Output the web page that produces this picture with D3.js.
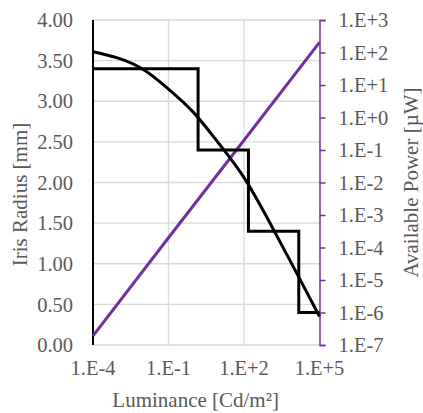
<!DOCTYPE html>
<meta charset="utf-8">
<html>
  <head>
    <script src="https://cdn.jsdelivr.net/npm/d3@7"></script>
    <style>
      body { margin: 0; background: #fff; }
    </style>
  </head>
  <body>
    <div id="chart"></div>

    <script type="text/javascript">
      // luminance (cd/m2) vs iris radius (mm)
      var curveLum = [1e-4, 1e-3, 1e-2, 1e-1, 1, 1e1, 1e2, 1e3, 1e4, 1e5];
      var curveRadius = [3.61, 3.53, 3.39, 3.15, 2.86, 2.48, 2.06, 1.52, 0.94, 0.35];

      // stepped approximation
      var stepLum = [1e-4, 1.5, 150, 15000, 1e5];
      var stepRadius = [3.4, 2.4, 1.4, 0.4, 0.4];

      // available power (uW)
      var powerLum = [1e-4, 1e-1, 1e2, 1e5];
      var power = [1.9e-7, 2e-4, 0.2, 206];

      var xTicks = [1e-4, 1e-1, 1e2, 1e5],
          xTickLabels = ["1.E-4", "1.E-1", "1.E+2", "1.E+5"],
          yTicks = [0, 0.5, 1, 1.5, 2, 2.5, 3, 3.5, 4],
          y2Exp = [-7, -6, -5, -4, -3, -2, -1, 0, 1, 2, 3];

      var width = 423, height = 413,
          margin = { top: 20, right: 103.5, bottom: 68, left: 93 },
          w = width - margin.left - margin.right,
          h = height - margin.top - margin.bottom,
          purple = "#7030a0",
          serif = "'Liberation Serif', 'Times New Roman', Times, serif";

      var svg = d3.select("#chart").append("svg")
          .attr("width", width)
          .attr("height", height)
          .append("g")
          .attr("transform", "translate(" + margin.left + "," + margin.top + ")");

      var x = d3.scaleLog().domain([1e-4, 1e5]).range([0, w]);
      var y = d3.scaleLinear().domain([0, 4]).range([h, 0]);
      var y2 = d3.scaleLog().domain([1e-7, 1e3]).range([h, 0]);

      // gridlines
      svg.selectAll(".hgrid")
          .data(yTicks)
          .enter().append("line")
            .attr("x1", 0).attr("x2", w)
            .attr("y1", function(d) { return y(d); })
            .attr("y2", function(d) { return y(d); })
            .style("stroke", "#d9d9d9")
            .style("stroke-width", "1.3px");

      svg.selectAll(".vgrid")
          .data(xTicks.slice(1, 3))
          .enter().append("line")
            .attr("y1", 0).attr("y2", h)
            .attr("x1", function(d) { return x(d); })
            .attr("x2", function(d) { return x(d); })
            .style("stroke", "#d9d9d9")
            .style("stroke-width", "1.3px");

      // left axis labels
      svg.selectAll(".yLabel")
          .data(yTicks)
          .enter().append("text")
            .text(function(d) { return d.toFixed(2); })
            .attr("x", -20)
            .attr("y", function(d) { return y(d); })
            .attr("dy", "0.35em")
            .style("text-anchor", "end")
            .style("font-family", serif)
            .style("fill", "#595959")
            .style("font-size", "20.5px");

      // bottom labels
      svg.selectAll(".xLabel")
          .data(xTicks)
          .enter().append("text")
            .text(function(d, i) { return xTickLabels[i]; })
            .attr("x", function(d) { return x(d); })
            .attr("y", h + 23)
            .attr("dy", "0.35em")
            .style("text-anchor", "middle")
            .style("font-family", serif)
            .style("fill", "#595959")
            .style("font-size", "20.5px");

      // right axis
      var rightAxis = d3.axisRight(y2)
          .tickValues(y2Exp.map(function(e) { return Math.pow(10, e); }))
          .tickSize(6)
          .tickPadding(13)
          .tickFormat(function(d) {
            var e = Math.round(Math.log10(d));
            return "1.E" + (e < 0 ? "-" : "+") + Math.abs(e);
          });

      var ra = svg.append("g")
          .attr("transform", "translate(" + w + ",0)")
          .call(rightAxis);
      ra.select(".domain").style("stroke", purple).style("stroke-width", "1.5px");
      ra.selectAll(".tick line").style("stroke", purple).style("stroke-width", "1.5px");
      ra.selectAll(".tick text")
          .style("font-family", serif)
          .style("font-size", "20.5px")
          .style("fill", "#595959");

      // left axis line
      svg.append("line")
          .attr("x1", 0).attr("x2", 0)
          .attr("y1", 0).attr("y2", h)
          .style("stroke", "#000")
          .style("stroke-width", "2px");

      // power line
      var powerLine = d3.line()
          .x(function(d, i) { return x(powerLum[i]); })
          .y(function(d) { return y2(d); });

      svg.append("path")
          .datum(power)
          .attr("d", powerLine)
          .style("fill", "none")
          .style("stroke", purple)
          .style("stroke-width", "3px");

      // stepped radius
      var stepLine = d3.line()
          .x(function(d, i) { return x(stepLum[i]); })
          .y(function(d) { return y(d); })
          .curve(d3.curveStepAfter);

      svg.append("path")
          .datum(stepRadius)
          .attr("d", stepLine)
          .style("fill", "none")
          .style("stroke", "#000")
          .style("stroke-width", "3px");

      // smooth radius
      var radiusLine = d3.line()
          .x(function(d, i) { return x(curveLum[i]); })
          .y(function(d) { return y(d); })
          .curve(d3.curveNatural);

      svg.append("path")
          .datum(curveRadius)
          .attr("d", radiusLine)
          .style("fill", "none")
          .style("stroke", "#000")
          .style("stroke-width", "3px");

      // axis titles
      svg.append("text")
          .text("Iris Radius [mm]")
          .attr("transform", "translate(" + (20 - margin.left) + "," + (h / 2 + 12) + ") rotate(-90)")
          .attr("dy", "0.35em")
          .style("text-anchor", "middle")
          .style("font-family", serif)
          .style("fill", "#595959")
          .style("font-size", "21px");

      svg.append("text")
          .text("Available Power [µW]")
          .attr("transform", "translate(" + (w + 91) + "," + (h / 2) + ") rotate(-90)")
          .attr("dy", "0.35em")
          .style("text-anchor", "middle")
          .style("font-family", serif)
          .style("fill", "#595959")
          .style("font-size", "21px");

      svg.append("text")
          .text("Luminance [Cd/m²]")
          .attr("x", x(1e0) + 2)
          .attr("y", h + 55)
          .attr("dy", "0.35em")
          .style("text-anchor", "middle")
          .style("font-family", serif)
          .style("fill", "#595959")
          .style("font-size", "21px");
    </script>
  </body>
</html>
